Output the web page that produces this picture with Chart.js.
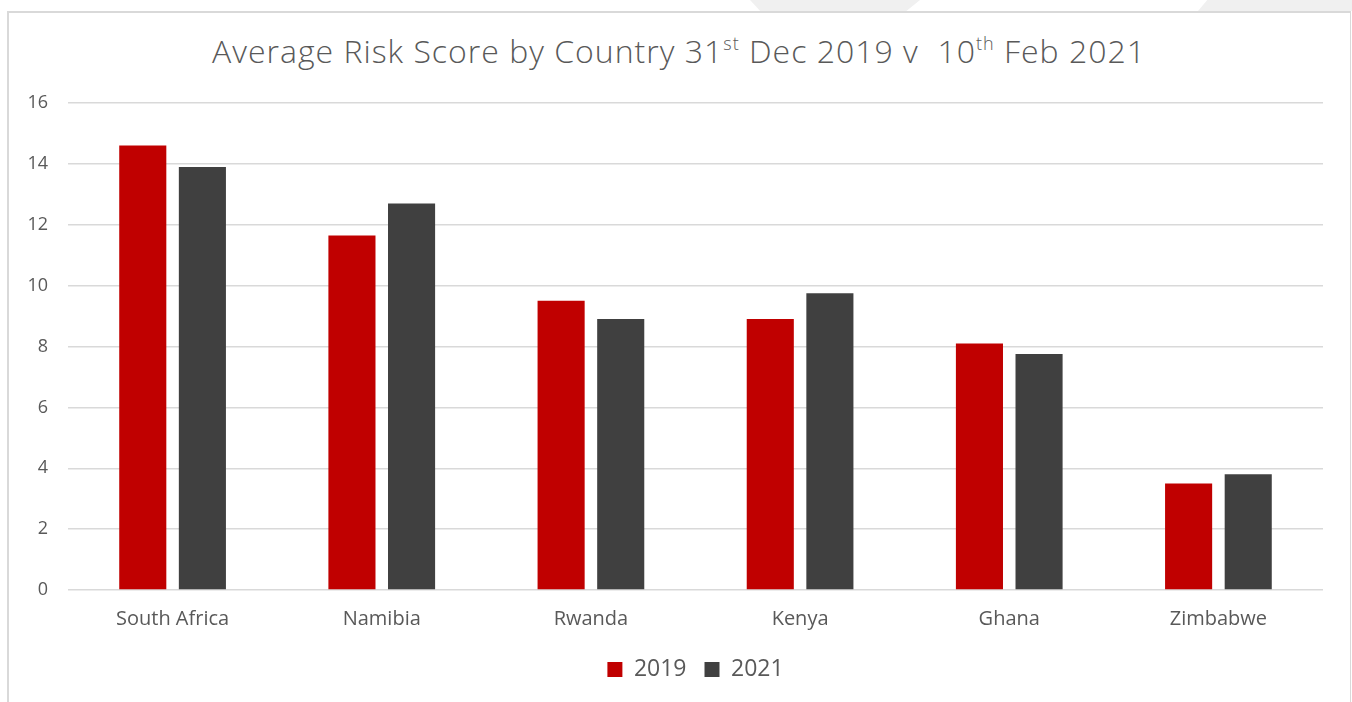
<!DOCTYPE html>
<html>
<head>
<meta charset="utf-8">
<script src="https://cdn.jsdelivr.net/npm/chart.js@4.4.1/dist/chart.umd.min.js"></script>
<style>
  html, body { margin: 0; padding: 0; background: #fff; }
  #wrap { position: relative; width: 1352px; height: 702px; overflow: hidden; font-family: "Open Sans", sans-serif; }
  .shade { position: absolute; top: 0; height: 11px; background: #f0f0f0; }
  #shade1 { left: 750px; width: 170px; clip-path: polygon(0 0, 100% 0, 92% 100%, 6% 100%); }
  #shade2 { left: 1198px; width: 154px; clip-path: polygon(0 100%, 6% 0, 100% 0, 100% 100%); }
  #frame { position: absolute; left: 7px; top: 11px; width: 1341px; height: 700px;
           border-left: 2px solid #d9d9d9; border-top: 2px solid #d9d9d9; border-right: 1px solid #d9d9d9; }
  #title { position: absolute; left: 0; width: 1358px; top: 29px; text-align: center;
           font-size: 32px; letter-spacing: 1px; color: #595959; font-weight: 300; white-space: pre; }
  #title sup { font-size: 18px; vertical-align: 0.7em; line-height: 0; }
  #box { position: absolute; left: 0; top: 0; width: 1352px; height: 702px; }
</style>
</head>
<body>
<div id="wrap">
  <div class="shade" id="shade1"></div>
  <div class="shade" id="shade2"></div>
  <div id="frame"></div>
  <div id="title">Average Risk Score by Country 31<sup>st</sup> Dec 2019 v  10<sup>th</sup> Feb 2021</div>
  <div id="box"><canvas id="js--chart--1"></canvas></div>
</div>
<script>
const countries = ["South Africa", "Namibia", "Rwanda", "Kenya", "Ghana", "Zimbabwe"];
const scores2019 = [14.6, 11.65, 9.5, 8.9, 8.1, 3.5];
const scores2021 = [13.9, 12.7, 8.9, 9.75, 7.75, 3.8];
const yTicks = [0, 2, 4, 6, 8, 10, 12, 14, 16];

const fontName = "'Open Sans', sans-serif";
const grey = "#595959";

const data = {
    labels: countries,
    datasets: [
        {
            label: "2019",
            data: scores2019,
            backgroundColor: "#C00000",
            categoryPercentage: 0.57,
            barPercentage: 0.79
        },
        {
            label: "2021",
            data: scores2021,
            backgroundColor: "#404040",
            categoryPercentage: 0.57,
            barPercentage: 0.79
        }
    ]
};

const config = {
    type: "bar",
    data: data,
    options: {
        responsive: true,
        maintainAspectRatio: false,
        animation: false,
        layout: { padding: { top: 103, left: 0, right: 29, bottom: 11 } },
        plugins: {
            title: { display: false },
            tooltip: { enabled: false },
            legend: {
                position: "bottom",
                fullSize: false,
                labels: {
                    boxWidth: 15,
                    boxHeight: 15,
                    padding: 18,
                    color: grey,
                    font: { family: fontName, size: 23 }
                }
            }
        },
        scales: {
            x: {
                grid: { display: false },
                border: { display: false },
                ticks: {
                    color: grey,
                    padding: 9,
                    font: { family: fontName, size: 20 }
                }
            },
            y: {
                min: 0,
                max: 16,
                afterBuildTicks: function (scale) {
                    scale.ticks = yTicks.map(function (v) { return { value: v }; });
                },
                afterFit: function (scale) { scale.width = 68; },
                grid: { color: "#d9d9d9", lineWidth: 1.5, drawTicks: false },
                border: { display: false },
                ticks: {
                    color: grey,
                    padding: 20,
                    font: { family: fontName, size: 18 }
                }
            }
        }
    }
};

const chart1 = new Chart(document.getElementById("js--chart--1"), config);
</script>
</body>
</html>
